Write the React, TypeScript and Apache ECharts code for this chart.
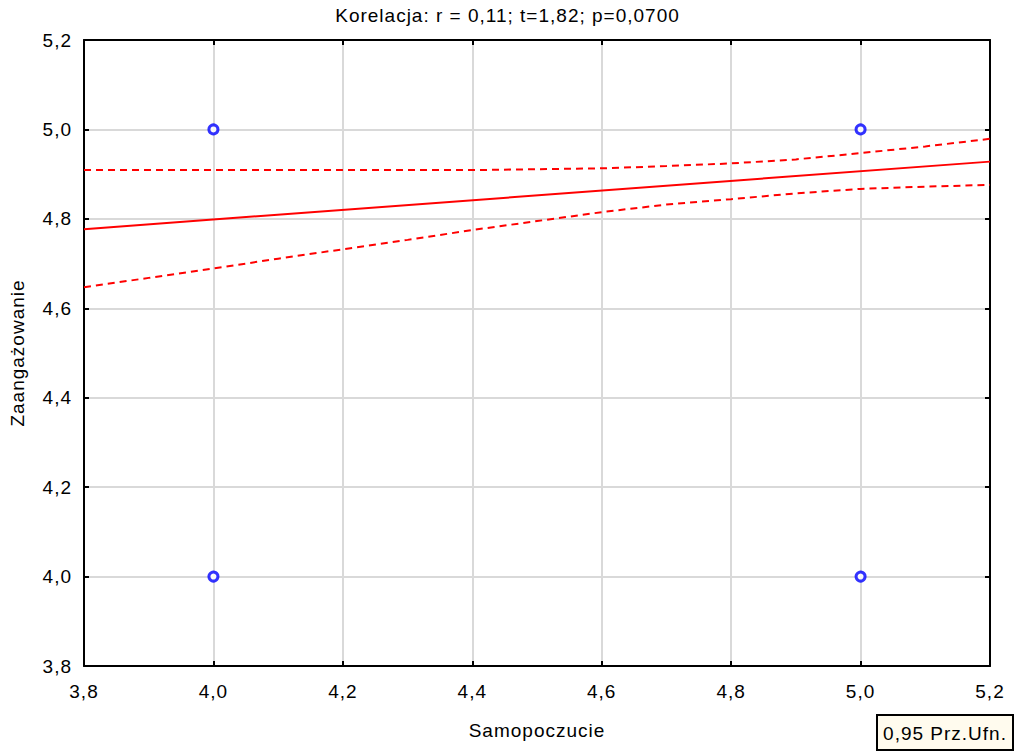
import React, { useEffect, useRef } from "react";
import * as echarts from "echarts";

const titleText = "Korelacja: r = 0,11; t=1,82; p=0,0700";
const xName = "Samopoczucie";
const yName = "Zaangażowanie";
const legendText = "0,95 Prz.Ufn.";

const bandX = [3.8, 3.9, 4.0, 4.1, 4.2, 4.3, 4.4, 4.5, 4.6, 4.7, 4.8, 4.9, 5.0, 5.1, 5.2];
const upperBand = [4.909, 4.909, 4.909, 4.909, 4.909, 4.909, 4.909, 4.911, 4.913, 4.918, 4.924, 4.933, 4.947, 4.962, 4.979];
const lowerBand = [4.647, 4.668, 4.689, 4.711, 4.732, 4.753, 4.775, 4.795, 4.815, 4.832, 4.844, 4.857, 4.867, 4.872, 4.876];

const fitX = [3.8, 5.2];
const fitY = [4.777, 4.928];

const pointsX = [4.0, 4.0, 5.0, 5.0];
const pointsY = [4.0, 5.0, 4.0, 5.0];

const axisMin = 3.8;
const axisMax = 5.2;
const axisStep = 0.2;

const FONT = "'Liberation Sans', Arial, Helvetica, sans-serif";

export default function App() {
  const ref = useRef<HTMLDivElement>(null);

  useEffect(() => {
    if (!ref.current) return;
    const chart = echarts.init(ref.current, null, { renderer: "svg" });
    const fmt = (v: number) => v.toFixed(1).replace(".", ",");
    const baseAxis = {
      type: "value" as const,
      min: axisMin,
      max: axisMax,
      interval: axisStep,
      axisLine: { show: true, onZero: false, lineStyle: { color: "#000", width: 2 } },
      axisTick: { show: true, inside: true, length: 5, lineStyle: { color: "#000", width: 2 } },
    };
    const option = {
      animation: false,
      backgroundColor: "#fff",
      textStyle: { fontFamily: FONT },
      title: {
        text: titleText,
        left: "center",
        top: 6,
        padding: 0,
        textStyle: { fontFamily: FONT, fontSize: 19, fontWeight: "normal", color: "#000" },
      },
      grid: { left: 84, right: 25, top: 40, bottom: 86, containLabel: false },
      xAxis: [
        {
          ...baseAxis,
          position: "bottom",
          name: xName,
          nameLocation: "middle",
          nameGap: 55,
          nameTextStyle: { fontFamily: FONT, fontSize: 19, color: "#000" },
          axisLabel: { show: true, margin: 16, fontFamily: FONT, fontSize: 19, color: "#000", formatter: fmt },
          splitLine: { show: true, lineStyle: { color: "#d9d9d9", width: 2 } },
        },
        {
          ...baseAxis,
          position: "top",
          axisLabel: { show: false },
          splitLine: { show: false },
        },
      ],
      yAxis: [
        {
          ...baseAxis,
          position: "left",
          name: yName,
          nameLocation: "middle",
          nameGap: 57,
          nameRotate: 90,
          nameTextStyle: { fontFamily: FONT, fontSize: 19, color: "#000" },
          axisLabel: { show: true, margin: 12, fontFamily: FONT, fontSize: 19, color: "#000", formatter: fmt },
          splitLine: { show: true, lineStyle: { color: "#d9d9d9", width: 2 } },
        },
        {
          ...baseAxis,
          position: "right",
          axisLabel: { show: false },
          splitLine: { show: false },
        },
      ],
      series: [
        {
          type: "line",
          name: "upper",
          data: bandX.map((x, i) => [x, upperBand[i]]),
          symbol: "none",
          lineStyle: { color: "#ff0000", width: 2, type: [7, 5] },
          z: 3,
        },
        {
          type: "line",
          name: "lower",
          data: bandX.map((x, i) => [x, lowerBand[i]]),
          symbol: "none",
          lineStyle: { color: "#ff0000", width: 2, type: [7, 5] },
          z: 3,
        },
        {
          type: "line",
          name: "fit",
          data: fitX.map((x, i) => [x, fitY[i]]),
          symbol: "none",
          lineStyle: { color: "#ff0000", width: 2 },
          z: 3,
        },
        {
          type: "scatter",
          name: "points",
          data: pointsX.map((x, i) => [x, pointsY[i]]),
          symbol: "circle",
          symbolSize: 9,
          itemStyle: { color: "#ffffff", borderColor: "#0000ff", borderWidth: 3 },
          z: 4,
        },
      ],
      graphic: [
        {
          type: "rect",
          shape: { x: 877, y: 715, width: 136, height: 35 },
          style: { fill: "#fffbee", stroke: "#000", lineWidth: 2 },
        },
        {
          type: "text",
          x: 945,
          y: 733,
          style: {
            text: legendText,
            fontFamily: FONT,
            fontSize: 19,
            fill: "#000",
            align: "center",
            verticalAlign: "middle",
          },
        },
      ],
    };
    chart.setOption(option as any);
    return () => chart.dispose();
  }, []);

  return (
    <>
      <style>{`#chartbox text { letter-spacing: 1px; }`}</style>
      <div
        id="chartbox"
        ref={ref}
        style={{ position: "fixed", left: 0, top: 0, width: 1015, height: 752 }}
      />
    </>
  );
}
